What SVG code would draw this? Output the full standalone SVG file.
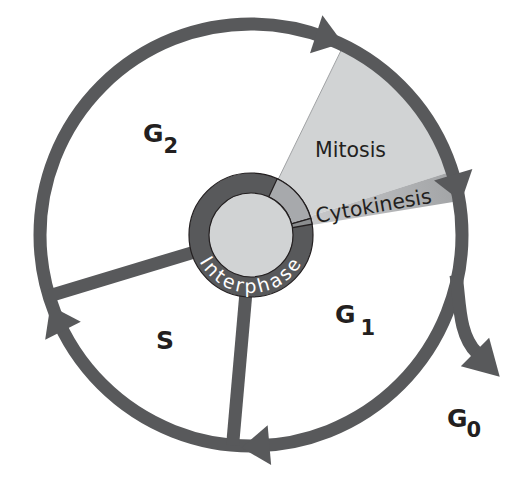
<svg xmlns="http://www.w3.org/2000/svg" width="518" height="478" viewBox="0 0 518 478">
<defs>
<style>
.stk{fill:none;stroke:#58595b;stroke-width:13}
.ah{fill:#58595b}
.ph{font-family:"DejaVu Sans",Verdana,sans-serif;font-weight:bold;font-size:25px;fill:#231f20}
.sub{font-size:21px}
.lbl{font-family:"DejaVu Sans",Verdana,sans-serif;font-size:20.5px;fill:#231f20}
.ring{stroke:#231f20;stroke-width:1.2}
.ip{font-family:"DejaVu Sans",Verdana,sans-serif;font-size:19px;fill:#ffffff;letter-spacing:2.5px}
</style>
<polygon id="ahd" points="191,0 231,0 211,28"/>
<linearGradient id="cg" gradientUnits="userSpaceOnUse" x1="310" y1="220" x2="456" y2="187">
<stop offset="0" stop-color="#c8c9cb"/><stop offset="1" stop-color="#a2a4a6"/>
</linearGradient>
<path id="ipath" d="M 193.9 245.1 A 58 58 0 0 0 308.1 245.1"/>
</defs>
<rect width="518" height="478" fill="#ffffff"/>

<g id="mitosis-wedge">
<path d="M251 235 L343.5 45.4 A211 211 0 0 1 452.1 171.2 Z" fill="#d1d3d4"/>
<line x1="251" y1="235" x2="343.5" y2="45.4" stroke="#a0a2a4" stroke-width="1"/>
</g>
<g id="cytokinesis-wedge">
<path d="M251 235 L452.1 171.2 A211 211 0 0 1 459.2 200.9 Z" fill="url(#cg)"/>
</g>

<g id="connectors">
<circle cx="251" cy="235" r="211" class="stk"/>
<line x1="197.5" y1="251.1" x2="49.0" y2="296.0" class="stk"/>
<line x1="246.2" y1="289.8" x2="232.6" y2="445.2" class="stk" stroke-width="12"/>
<path d="M456 275 C460 300 458 335 477 353" class="stk" stroke-width="12"/>
<use href="#ahd" class="ah" transform="translate(251 235) rotate(-72)"/>
<use href="#ahd" class="ah" transform="translate(251 235) rotate(-16.6)"/>
<use href="#ahd" class="ah" transform="translate(251 235) rotate(85)"/>
<use href="#ahd" class="ah" transform="translate(251 235) rotate(153)"/>
<polygon class="ah" points="0,-20 0,20 35,0" transform="translate(475 352) rotate(45)"/>
</g>

<g id="interphase-ring">
<circle cx="251" cy="235" r="62" fill="#58595b" class="ring"/>
<path d="M 277.2 178.8 A 62 62 0 0 1 310.7 218.4 L 291.5 223.8 A 42 42 0 0 0 268.7 196.9 Z" fill="#a7a9ac" class="ring"/>
<path d="M 310.7 218.4 A 62 62 0 0 1 312.1 224.2 L 292.4 227.7 A 42 42 0 0 0 291.5 223.8 Z" fill="#8b8d8f" class="ring"/>
<circle cx="251" cy="235" r="42" fill="#d1d3d4" class="ring"/>
<text class="ip"><textPath href="#ipath" startOffset="50%" text-anchor="middle">Interphase</textPath></text>
</g>

<g id="g2"><text x="143" y="142" class="ph">G<tspan class="sub" dx="0" dy="11">2</tspan></text></g>
<g id="s"><text x="156" y="349" class="ph">S</text></g>
<g id="g1"><text x="335" y="323" class="ph">G<tspan class="sub" dx="5" dy="12">1</tspan></text></g>
<g id="g0"><text x="447" y="427" class="ph">G<tspan class="sub" dx="-1" dy="10">0</tspan></text></g>
<g id="mitosis"><text x="315" y="157" class="lbl">Mitosis</text></g>
<g id="cytokinesis"><text x="317" y="223" class="lbl" font-size="21px" transform="rotate(-10 317 223)">Cytokinesis</text></g>
</svg>
